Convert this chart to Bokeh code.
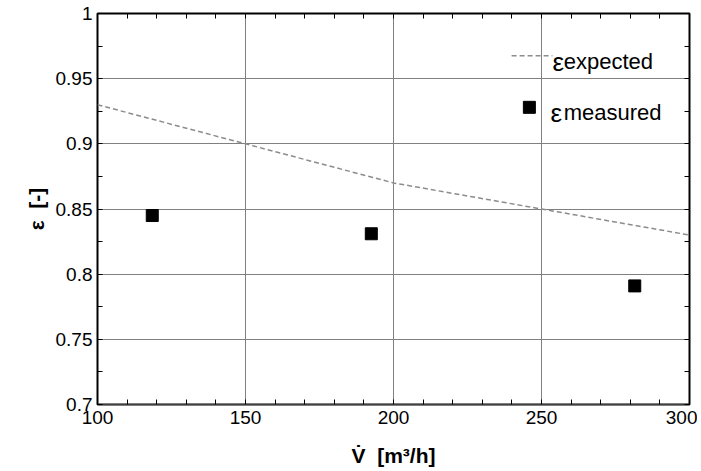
from bokeh.plotting import figure
from bokeh.models import (Range1d, SingleIntervalTicker, NumeralTickFormatter,
                          LinearAxis, Label, FixedTicker)
from bokeh.embed import file_html
from bokeh.resources import INLINE

# ---- data ----
flow_expected = [100, 150, 200, 250, 300]          # m3/h
eps_expected = [0.93, 0.90, 0.87, 0.85, 0.83]
flow_measured = [118.5, 192.5, 281.5]
eps_measured = [0.845, 0.831, 0.791]

x_label = "V\u0307\u00a0\u00a0[m\u00b3/h]"
y_label = "\u03b5\u00a0\u00a0[-]"
legend_main = "\u03b5"
legend_sub = ["expected", "measured"]

# mirrored minor tick positions (top / right frame edges)
x_minor_ticks = list(range(100, 301, 10))
y_minor_ticks = [round(0.7 + 0.025 * i, 3) for i in range(13)]

# ---- legend placement (data units, styling only) ----
LEG_LINE_X = [239.9, 253.7]
LEG_LINE_Y = 0.9675
LEG_SQ_X = 245.9
LEG_SQ_Y = 0.928
LEG_EPS_X = [253.7, 253.0]
LEG_SUB_X = 257.5
LEG_TXT_Y = [0.963, 0.924]

FONT = "Liberation Sans"
GRID = "#808080"
DASH = "#8c8c8c"

p = figure(frame_width=592, frame_height=391,
           min_border_left=97, min_border_right=8, min_border_top=13, min_border_bottom=60,
           x_range=Range1d(100, 300), y_range=Range1d(0.7, 1.0),
           output_backend="svg", toolbar_location=None)
p.background_fill_color = "white"
p.border_fill_color = "white"
p.outline_line_color = "black"
p.outline_line_width = 2
p.outline_line_alpha = 1

p.xaxis.ticker = SingleIntervalTicker(interval=50, num_minor_ticks=5)
p.yaxis.ticker = SingleIntervalTicker(interval=0.05, num_minor_ticks=2)
p.yaxis.formatter = NumeralTickFormatter(format="0.[00]")

for ax in (p.xaxis[0], p.yaxis[0]):
    ax.axis_line_color = None
    ax.major_tick_in = 0
    ax.major_tick_out = 0
    ax.minor_tick_in = 5
    ax.minor_tick_out = 0
    ax.minor_tick_line_color = "black"
    ax.major_label_text_font = FONT
    ax.major_label_text_font_size = "19px"
    ax.major_label_text_color = "black"
    ax.axis_label_text_font = FONT
    ax.axis_label_text_font_size = "21px"
    ax.axis_label_text_font_style = "bold"
    ax.axis_label_text_color = "black"

p.xaxis.axis_label = x_label
p.yaxis.axis_label = y_label
p.xaxis.major_label_standoff = 6
p.yaxis.major_label_standoff = 5
p.xaxis.axis_label_standoff = 17
p.yaxis.axis_label_standoff = 5

# mirrored minor ticks on top / right
top = LinearAxis(ticker=FixedTicker(ticks=[], minor_ticks=x_minor_ticks))
right = LinearAxis(ticker=FixedTicker(ticks=[], minor_ticks=y_minor_ticks))
for ax in (top, right):
    ax.axis_line_color = None
    ax.major_tick_in = 0
    ax.major_tick_out = 0
    ax.minor_tick_in = 5
    ax.minor_tick_out = 0
    ax.minor_tick_line_color = "black"
    ax.major_label_standoff = 0
    ax.major_label_text_font_size = "0px"
p.add_layout(top, "above")
p.add_layout(right, "right")

p.xgrid.grid_line_color = GRID
p.ygrid.grid_line_color = GRID
p.xgrid.grid_line_width = 1
p.ygrid.grid_line_width = 1

# expected line
p.line(flow_expected, eps_expected, line_color=DASH, line_width=1.5, line_dash="5 3")
# measured points
p.scatter(flow_measured, eps_measured, marker="square", size=12,
          fill_color="black", line_color="black")

# legend (manual, for subscript text)
p.line(LEG_LINE_X, [LEG_LINE_Y, LEG_LINE_Y], line_color=DASH, line_width=1.5, line_dash="5 3")
p.scatter([LEG_SQ_X], [LEG_SQ_Y], marker="square", size=12, fill_color="black", line_color="black")
for i in range(2):
    p.add_layout(Label(x=LEG_EPS_X[i], y=LEG_TXT_Y[i], text=legend_main,
                       text_font=FONT, text_font_size="26px", text_color="black",
                       text_baseline="alphabetic", text_align="left"))
    p.add_layout(Label(x=LEG_SUB_X, y=LEG_TXT_Y[i], text=legend_sub[i],
                       text_font=FONT, text_font_size="22px", text_color="black",
                       text_baseline="alphabetic", text_align="left"))

open("out.html", "w").write(file_html(p, INLINE))
